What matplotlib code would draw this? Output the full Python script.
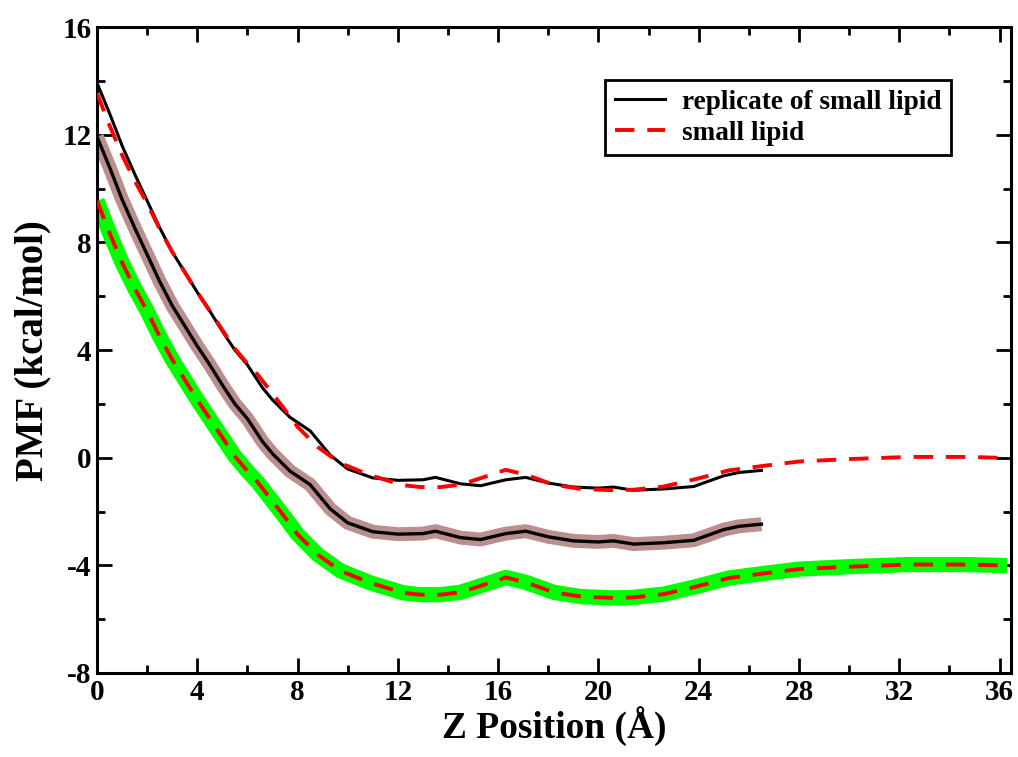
import matplotlib
matplotlib.use("Agg")
import matplotlib.pyplot as plt
from matplotlib.ticker import MultipleLocator

# Data: replicate of small lipid (black solid)
rep_x = [0, 0.5, 1, 1.5, 2, 2.5, 3, 3.5, 4, 4.5, 5, 5.5, 6.0, 6.6, 7.0, 7.7, 8.5, 9.3,
         10.0, 11, 12, 13, 13.5, 14.5, 15.3, 16.3, 17.1, 18, 19, 20, 20.6, 21.4, 22.6,
         23.8, 25, 25.6, 26.5]
rep_y = [13.93, 12.8, 11.6, 10.55, 9.55, 8.55, 7.65, 6.9, 6.15, 5.45, 4.7, 4.0, 3.45, 2.6,
         2.15, 1.5, 1.0, 0.1, -0.42, -0.75, -0.84, -0.82, -0.73, -0.97, -1.04, -0.82,
         -0.73, -0.94, -1.09, -1.13, -1.09, -1.21, -1.16, -1.07, -0.67, -0.55, -0.47]

# Data: small lipid (red dashed)
sl_x = [0, 0.5, 1, 1.5, 2, 2.5, 3, 3.5, 4, 4.5, 5, 5.5, 6.0, 6.4, 7.4, 8.0, 8.8, 9.7, 10.9,
        12.2, 12.9, 13.7, 14.5, 15.3, 16.3, 17.1, 18.2, 19.3, 20.6, 21.4, 22.6,
        23.9, 25.2, 26.6, 28, 30, 32.4, 34.7, 36.3]
sl_y = [13.55, 12.35, 11.25, 10.3, 9.45, 8.5, 7.65, 6.9, 6.15, 5.45, 4.75, 4.05, 3.5, 3.1,
        1.9, 1.15, 0.4, -0.2, -0.65, -1.02, -1.09, -1.09, -1.0, -0.76, -0.45, -0.63,
        -1.0, -1.16, -1.21, -1.19, -1.07, -0.79, -0.47, -0.30, -0.14, -0.05, 0.03,
        0.03, -0.01]

rep_shift = -2.0
sl_shift = -4.0

xticks = [0, 4, 8, 12, 16, 20, 24, 28, 32, 36]
yticks = [-8, -4, 0, 4, 8, 12, 16]

plt.rcParams['font.family'] = ['Liberation Serif', 'DejaVu Serif']
plt.rcParams['font.weight'] = 'bold'
plt.rcParams['axes.unicode_minus'] = False

fig = plt.figure(figsize=(10.18, 7.57), dpi=100)
ax = fig.add_axes([0.0953, 0.111, 0.8977, 0.853])

# shifted curves with bands
ax.plot(rep_x, [v + rep_shift for v in rep_y], color='#bc8f8f', lw=10, solid_capstyle='butt', zorder=2)
ax.plot(rep_x, [v + rep_shift for v in rep_y], color='black', lw=2.4, zorder=3)
ax.plot(sl_x, [v + sl_shift for v in sl_y], color='#00ff00', lw=11, solid_capstyle='butt', zorder=2)
ax.plot(sl_x, [v + sl_shift for v in sl_y], color='red', lw=2.8, dashes=(5, 3.3), zorder=3)

# original curves
ax.plot(rep_x, rep_y, color='black', lw=2.2, zorder=3, label='replicate of small lipid')
ax.plot(sl_x, sl_y, color='red', lw=2.8, dashes=(5, 3.3), zorder=4, label='small lipid')

ax.set_xlim(0, 36.45)
ax.set_ylim(-8, 16)
ax.set_xticks(xticks)
ax.set_yticks(yticks)
ax.xaxis.set_minor_locator(MultipleLocator(2))
ax.yaxis.set_minor_locator(MultipleLocator(2))
ax.tick_params(which='both', direction='in', top=True, right=True, width=2)
ax.tick_params(which='major', length=11, labelsize=21, pad=4)
ax.tick_params(which='minor', length=6)
for s in ax.spines.values():
    s.set_linewidth(2.2)
for lab in ax.get_xticklabels() + ax.get_yticklabels():
    lab.set_fontweight('bold')

ax.set_xlabel('Z Position (Å)', fontsize=27, fontweight='bold', labelpad=0)
ax.set_ylabel('PMF (kcal/mol)', fontsize=28, fontweight='bold', labelpad=8)

leg = ax.legend(loc='upper right', bbox_to_anchor=(0.934, 0.918), fontsize=19.6,
                frameon=True, fancybox=False, edgecolor='black', framealpha=1,
                handlelength=1.85, handletextpad=0.6, borderpad=0.35, labelspacing=0.22,
                borderaxespad=0)
leg.get_frame().set_linewidth(2)
for t in leg.get_texts():
    t.set_fontweight('bold')

fig.savefig('out.png', dpi=100)
